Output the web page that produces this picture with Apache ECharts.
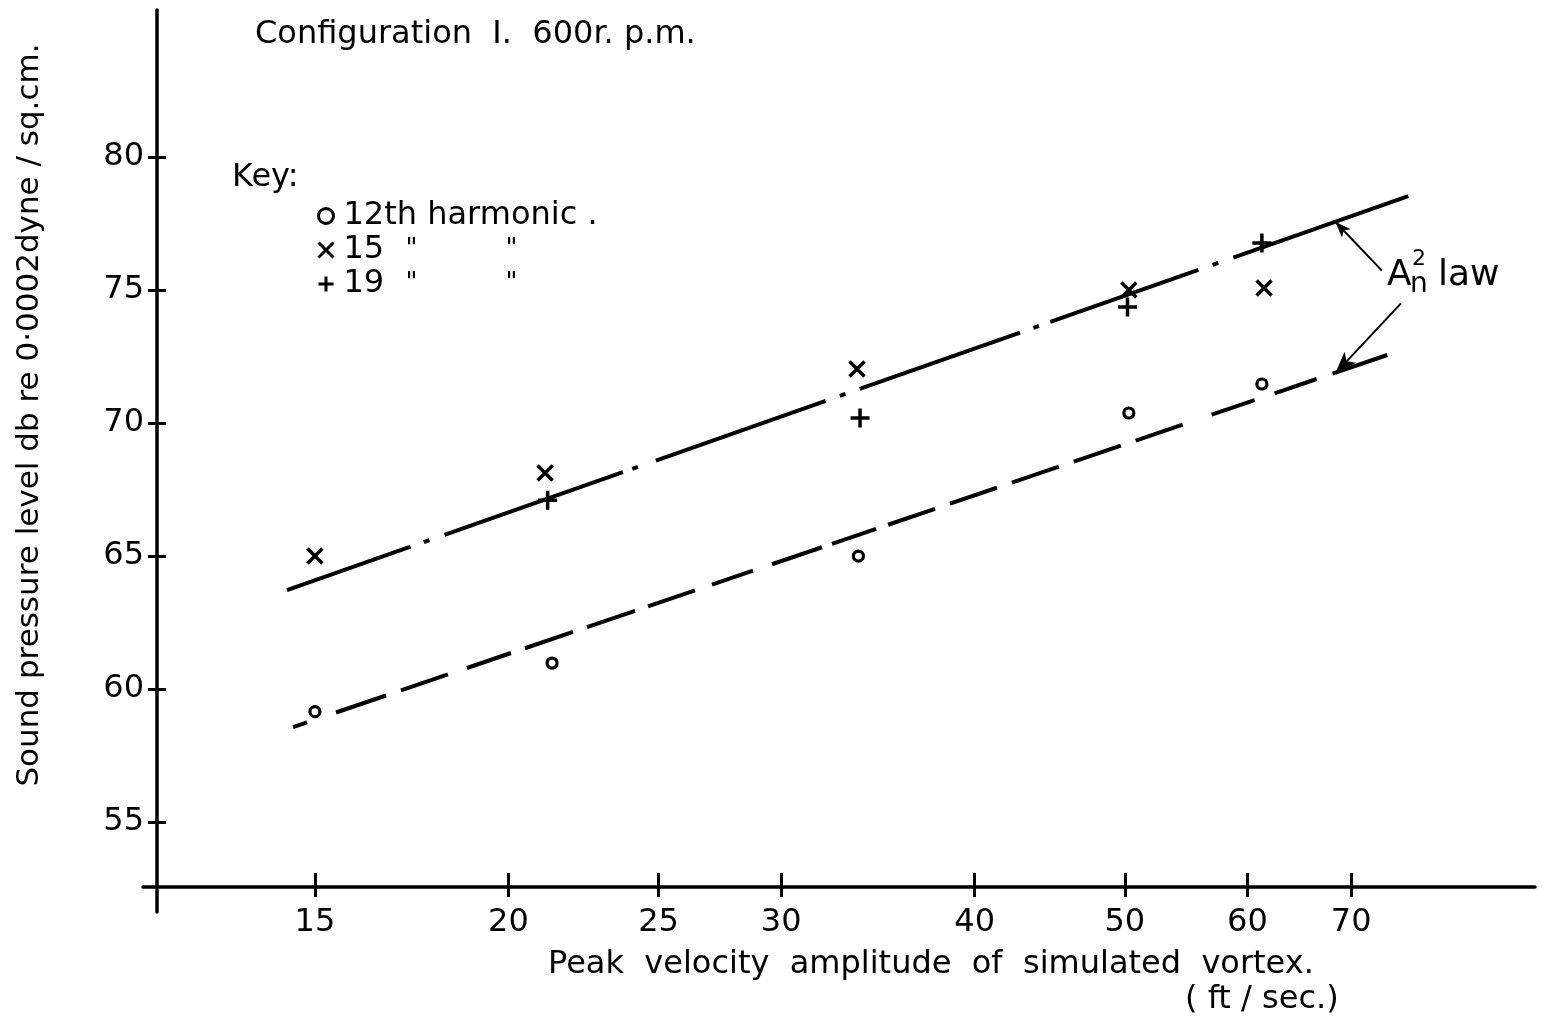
<!DOCTYPE html>
<html><head><meta charset="utf-8">
<script src="https://cdn.jsdelivr.net/npm/echarts@6/dist/echarts.min.js"></script>
<style>html,body{margin:0;padding:0;background:#fff}#c{width:1553px;height:1020px}</style>
</head><body><div id="c"></div>
<script>
// ---- data ----
const xTicks = [15, 20, 25, 30, 40, 50, 60, 70];
const yTicks = [55, 60, 65, 70, 75, 80];
const harm12 = [[15.0, 59.15], [21.34, 60.98], [33.65, 65.0], [50.3, 70.38], [61.3, 71.47]];
const harm15 = [[15.0, 65.0], [21.12, 68.12], [33.58, 72.03], [50.3, 75.0], [61.5, 75.08]];
const harm19 = [[21.2, 67.1], [33.73, 70.19], [50.2, 74.36], [61.3, 76.77]];
const lawUpper = [[14.39, 63.72], [76.2, 78.53]];
const lawLower = [[14.52, 58.57], [73.86, 72.56]];
const arrowUpper = [[73.27, 75.73], [68.37, 77.57]];
const arrowLower = [[75.38, 74.5], [68.37, 71.87]];
const keyRows = [['12th harmonic .'], ['15', '"', '"'], ['19', '"', '"']];
const seriesNames = keyRows.map(r => r.join(' '));

// ---- styles ----
const FONT = 'DejaVu Sans';
const INK = '#000';
const upperDash = [131, 14, 6, 16, 189, 10, 6, 19, 180, 15, 6, 15, 170, 14, 6, 12, 157, 15, 6, 16, 400];
const lowerDash = [14.8, 30.6, 52.8, 15.8, 49.6, 20.1, 46.5, 14.8, 50.7, 14.8, 50.7, 13.7, 49.6, 18, 43.3, 20.1,
  52.8, 10.6, 46.5, 12.7, 49.6, 15.8, 49.6, 15.8, 49.6, 15.8, 49.6, 15.8, 49.6, 30.6, 45.4, 21.1, 44.4, 16.9, 200];
const XPATH = 'path://M0 0L10 10M10 0L0 10';
const PLUSPATH = 'path://M5 0V10M0 5H10';
const xMin = 11.617, xMax = 92.0, yMin = 51.62, yMax = 85.53;
const f = s => s + 'px "' + FONT + '"';

const chart = echarts.init(document.getElementById('c'), null, {renderer: 'canvas'});

const xBase = {
  type: 'log', min: xMin, max: xMax, position: 'bottom', offset: -25,
  splitLine: {show: false}, minorTick: {show: false}, minorSplitLine: {show: false}
};
const yBase = {
  type: 'value', min: yMin, max: yMax, position: 'left', offset: -14,
  splitLine: {show: false}
};

function keyFormatter(name) {
  const row = keyRows[seriesNames.indexOf(name)];
  if (row.length === 1) return '{n|' + row[0] + '}';
  return '{a|' + row[0] + '}{b|' + row[1] + '}{c|' + row[2] + '}';
}

chart.setOption({
  animation: false,
  backgroundColor: '#fff',
  grid: {left: 143, right: 18, top: 10, bottom: 108, containLabel: false},
  xAxis: [
    Object.assign({}, xBase, {
      axisLine: {show: true, onZero: false, lineStyle: {color: INK, width: 3.5}},
      axisTick: {show: true, inside: false, length: 10, customValues: xTicks, lineStyle: {color: INK, width: 3}},
      axisLabel: {show: true, customValues: xTicks, margin: 20, color: INK, fontSize: 32, fontFamily: FONT,
        formatter: v => String(Math.round(v))}
    }),
    Object.assign({}, xBase, {
      axisLine: {show: false},
      axisTick: {show: true, inside: true, length: 14, customValues: xTicks, lineStyle: {color: INK, width: 3}},
      axisLabel: {show: false}
    })
  ],
  yAxis: [
    Object.assign({}, yBase, {
      axisLine: {show: true, onZero: false, lineStyle: {color: INK, width: 3.5}},
      axisTick: {show: true, inside: false, length: 9, customValues: yTicks, lineStyle: {color: INK, width: 3}},
      axisLabel: {show: true, customValues: yTicks, margin: 13, color: INK, fontSize: 32, fontFamily: FONT}
    }),
    Object.assign({}, yBase, {
      axisLine: {show: false},
      axisTick: {show: true, inside: true, length: 9, customValues: yTicks, lineStyle: {color: INK, width: 3}},
      axisLabel: {show: false}
    })
  ],
  legend: {
    data: [
      {name: seriesNames[0], icon: 'circle'},
      {name: seriesNames[1], icon: XPATH},
      {name: seriesNames[2], icon: PLUSPATH}
    ],
    orient: 'vertical', left: 317, top: 200, padding: 0, itemWidth: 15, itemHeight: 15, itemGap: 2,
    selectedMode: false,
    itemStyle: {borderWidth: 3, opacity: 1},
    formatter: keyFormatter,
    textStyle: {
      color: INK, fontFamily: FONT, fontSize: 32, lineHeight: 32,
      rich: {
        n: {fontFamily: FONT, fontSize: 32, padding: [0, 0, 0, 5]},
        a: {fontFamily: FONT, fontSize: 32, width: 62, padding: [0, 0, 0, 5]},
        b: {fontFamily: FONT, fontSize: 26, width: 100},
        c: {fontFamily: FONT, fontSize: 26}
      }
    }
  },
  series: [
    {
      name: 'A2 law (upper)', type: 'line', data: lawUpper, symbol: 'none', silent: true, z: 2,
      lineStyle: {color: INK, width: 4, type: upperDash},
      markLine: {
        silent: true, symbol: ['none', 'arrow'], symbolSize: [9, 16],
        label: {show: false},
        lineStyle: {color: INK, width: 2, type: 'solid'},
        data: [[{coord: arrowUpper[0]}, {coord: arrowUpper[1]}]]
      }
    },
    {
      name: 'A2 law (lower)', type: 'line', data: lawLower, symbol: 'none', silent: true, z: 2,
      lineStyle: {color: INK, width: 4, type: lowerDash},
      markLine: {
        silent: true, symbol: ['none', 'arrow'], symbolSize: [12, 22],
        label: {show: false},
        lineStyle: {color: INK, width: 2, type: 'solid'},
        data: [[{coord: arrowLower[0]}, {coord: arrowLower[1]}]]
      }
    },
    {
      name: seriesNames[0], type: 'scatter', data: harm12, symbol: 'circle', symbolSize: 10, z: 5,
      itemStyle: {color: '#fff', borderColor: INK, borderWidth: 3.2, opacity: 1}
    },
    {
      name: seriesNames[1], type: 'scatter', data: harm15, symbol: XPATH, symbolSize: 15, z: 5,
      itemStyle: {color: INK, borderColor: INK, borderWidth: 3.5, opacity: 1}
    },
    {
      name: seriesNames[2], type: 'scatter', data: harm19, symbol: PLUSPATH, symbolSize: 19, z: 5,
      itemStyle: {color: INK, borderColor: INK, borderWidth: 3.5, opacity: 1}
    }
  ],
  graphic: [
    {type: 'text', x: 255, y: 35, style: {text: 'Configuration  I.  600r. p.m.', font: f(32), fill: INK, verticalAlign: 'middle'}},
    {type: 'text', x: 232, y: 178, style: {text: 'Key:', font: f(32), fill: INK, verticalAlign: 'middle'}},
    {type: 'text', x: 30, y: 415, rotation: Math.PI / 2,
      style: {text: 'Sound pressure level db re 0·0002dyne / sq.cm.', font: f(31), fill: INK, align: 'center', verticalAlign: 'middle'}},
    {type: 'text', x: 548, y: 965, style: {text: 'Peak  velocity  amplitude  of  simulated  vortex.', font: f(32), fill: INK, verticalAlign: 'middle'}},
    {type: 'text', x: 1185, y: 1000, style: {text: '( ft / sec.)', font: f(32), fill: INK, verticalAlign: 'middle'}},
    {type: 'text', x: 1387, y: 276, style: {text: 'A', font: f(36), fill: INK, verticalAlign: 'middle'}},
    {type: 'text', x: 1412, y: 259, style: {text: '2', font: f(22), fill: INK, verticalAlign: 'middle'}},
    {type: 'text', x: 1410, y: 285, style: {text: 'n', font: f(28), fill: INK, verticalAlign: 'middle'}},
    {type: 'text', x: 1438, y: 276, style: {text: 'law', font: f(36), fill: INK, verticalAlign: 'middle'}}
  ]
});
</script></body></html>
